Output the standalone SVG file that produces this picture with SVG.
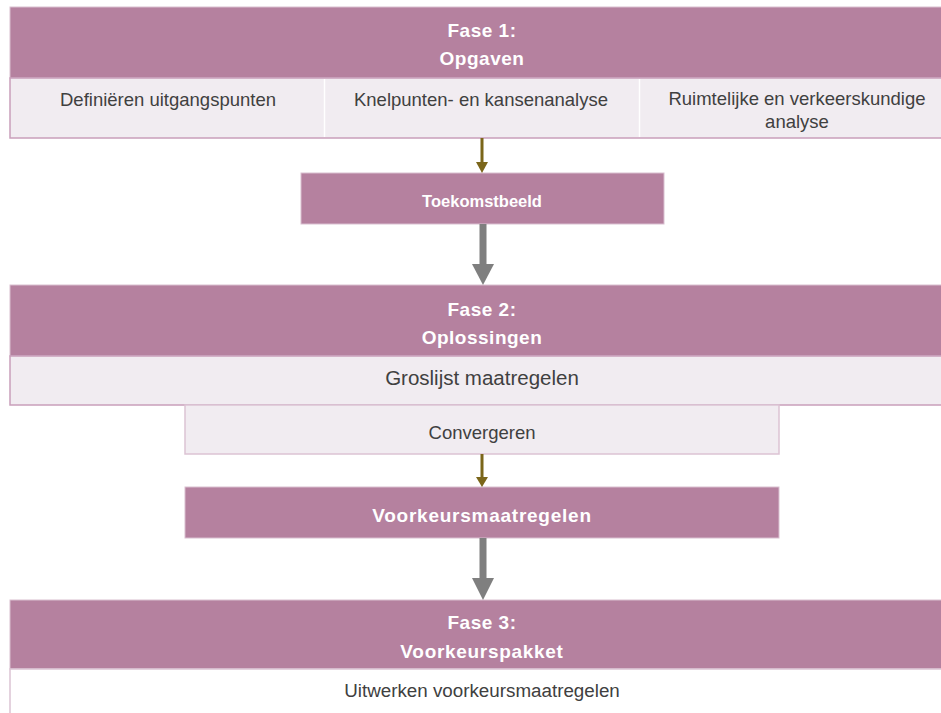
<svg xmlns="http://www.w3.org/2000/svg" width="941" height="713" viewBox="0 0 941 713">
<style>
.hdr{fill:#b5819f;stroke:#d9bfd0;stroke-width:1}
.row{fill:#f1ecf1;stroke:#c99fba;stroke-width:1.5}
.wrow{fill:#ffffff;stroke:#dcc3d3;stroke-width:1.5}
.div{stroke:#ffffff;stroke-width:1.5}
.ht{font-family:"Liberation Sans",Arial,sans-serif;font-weight:bold;font-size:19px;letter-spacing:0.5px;fill:#ffffff;text-anchor:middle}
.bt{font-family:"Liberation Sans",Arial,sans-serif;font-weight:bold;font-size:16.5px;fill:#ffffff;text-anchor:middle}
.nt{font-family:"Liberation Sans",Arial,sans-serif;font-size:18.5px;fill:#404040;text-anchor:middle}
.olive{fill:#7b661a}
.gray{fill:#7f7f7f}
</style>
<rect width="941" height="713" fill="#ffffff"/>
<g id="fase1">
<rect class="hdr" x="10" y="7" width="945" height="71"/>
<text class="ht" x="482" y="37">Fase 1:</text>
<text class="ht" x="482" y="65">Opgaven</text>
</g>
<g id="fase1-items">
<rect class="row" x="10" y="78" width="945" height="60"/>
<line class="div" x1="324.5" y1="79" x2="324.5" y2="137"/>
<line class="div" x1="639.5" y1="79" x2="639.5" y2="137"/>
<text class="nt" x="168" y="106">Definiëren uitgangspunten</text>
<text class="nt" x="481" y="106">Knelpunten- en kansenanalyse</text>
<text class="nt" x="797" y="105">Ruimtelijke en verkeerskundige</text>
<text class="nt" x="797" y="128">analyse</text>
</g>
<g id="toekomstbeeld">
<rect class="hdr" x="301" y="173" width="363" height="51"/>
<text class="bt" x="482" y="207">Toekomstbeeld</text>
</g>
<g id="fase2">
<rect class="hdr" x="10" y="285" width="945" height="71"/>
<text class="ht" x="482" y="316">Fase 2:</text>
<text class="ht" x="482" y="344">Oplossingen</text>
</g>
<g id="groslijst">
<rect class="row" x="10" y="356" width="945" height="49"/>
<text class="nt" x="482" y="385" style="font-size:20.5px">Groslijst maatregelen</text>
</g>
<g id="convergeren">
<rect class="row" x="185" y="405" width="594" height="49" style="stroke:#dcc3d3"/>
<text class="nt" x="482" y="439">Convergeren</text>
</g>
<g id="voorkeursmaatregelen">
<rect class="hdr" x="185" y="487" width="594" height="51"/>
<text class="ht" x="482" y="522" style="letter-spacing:0.75px">Voorkeursmaatregelen</text>
</g>
<g id="fase3">
<rect class="hdr" x="10" y="600" width="945" height="69"/>
<text class="ht" x="482" y="629">Fase 3:</text>
<text class="ht" x="482" y="658" style="letter-spacing:0.7px">Voorkeurspakket</text>
</g>
<g id="uitwerken">
<rect class="wrow" x="10" y="669" width="945" height="60"/>
<text class="nt" x="482" y="697" style="font-size:18.8px">Uitwerken voorkeursmaatregelen</text>
</g>
<g id="connectors">
<rect class="olive" x="480.5" y="138" width="3" height="25"/>
<polygon class="olive" points="476,162 488,162 482,173"/>
<rect class="gray" x="479.5" y="224" width="7" height="42"/>
<polygon class="gray" points="472,264 494,264 483,285"/>
<rect class="olive" x="480.5" y="454" width="3" height="24"/>
<polygon class="olive" points="476,477 488,477 482,487"/>
<rect class="gray" x="479.5" y="538" width="7" height="42"/>
<polygon class="gray" points="472,578 494,578 483,600"/>
</g>
</svg>
